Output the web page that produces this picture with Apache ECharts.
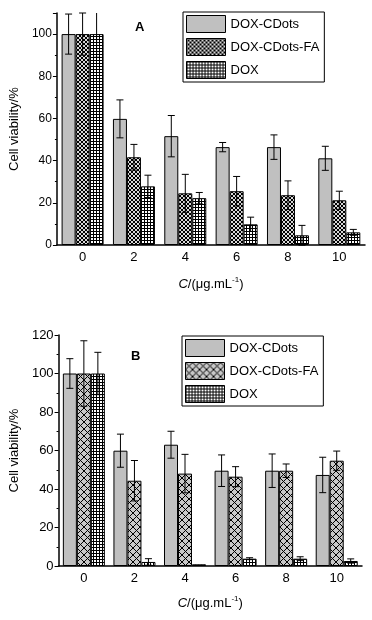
<!DOCTYPE html>
<html>
<head>
<meta charset="utf-8">
<script src="https://cdn.jsdelivr.net/npm/echarts@6/dist/echarts.min.js"></script>
<style>
  body { margin: 0; background: #fff; }
  #chartA, #chartB { width: 372px; height: 310px; }
</style>
</head>
<body>
<div id="chartA"></div>
<div id="chartB"></div>
<script>
var categories = ['0', '2', '4', '6', '8', '10'];
var seriesNames = ['DOX-CDots', 'DOX-CDots-FA', 'DOX'];

// panel A
var cdotsA = [100, 59.8, 51.6, 46.4, 46.4, 41.1];
var cdotsFaA = [100, 41.6, 24.5, 25.5, 23.6, 21.2];
var doxA = [100, 27.8, 22.2, 9.8, 4.6, 6.0];
var cdotsErrA = [9.5, 9, 9.8, 2.2, 5.8, 5.7];
var cdotsFaErrA = [10, 6.1, 9, 7, 6.8, 4.3];
var doxErrA = [11, 5.3, 2.7, 3.4, 4.7, 1.4];

// panel B
var cdotsB = [100, 59.9, 63, 49.5, 49.5, 47.3];
var cdotsFaB = [100, 44.3, 48, 46.4, 49.5, 54.7];
var doxB = [100, 2.1, 0.9, 3.8, 3.8, 2.6];
var cdotsErrB = [7.7, 8.6, 7, 8.2, 8.7, 9.2];
var cdotsFaErrB = [17, 10.5, 10, 5.2, 3.5, 5];
var doxErrB = [11, 1.7, 0, 0.5, 1, 1.1];

function pattern(size, bg, dots) {
    var c = document.createElement('canvas');
    c.width = size; c.height = size;
    var g = c.getContext('2d');
    g.fillStyle = bg;
    g.fillRect(0, 0, size, size);
    g.fillStyle = '#000';
    dots(g, size);
    return { image: c, repeat: 'repeat' };
}
// fine dark checker (panel A FA)
var denseHatch = pattern(4, '#d8d8d8', function (g, s) {
    for (var i = 0; i < s; i++) { g.fillRect(i, i, 1, 1); g.fillRect(s - 1 - i, i, 1, 1); }
});
// open diagonal cross hatch (panel B FA)
var crossHatch = pattern(7, '#c8c8c8', function (g, s) {
    for (var i = 0; i < s; i++) { g.fillRect(i, i, 1, 1); g.fillRect(s - 1 - i, i, 1, 1); }
});
// square grid (DOX)
var gridHatch = pattern(3, '#ffffff', function (g, s) {
    g.fillRect(0, 0, s, 1); g.fillRect(0, 0, 1, s);
});

function errorSeries(vals, errs, offset, ymax) {
    var data = vals.map(function (v, i) { return [i, v, errs[i]]; });
    return {
        type: 'custom',
        xAxisIndex: 0,
        z: 5,
        silent: true,
        data: data,
        renderItem: function (params, api) {
            var i = api.value(0), v = api.value(1), e = api.value(2);
            if (!e) return;
            var hi = Math.min(v + e, ymax);
            var p1 = api.coord([i, hi]);
            var p2 = api.coord([i, v - e]);
            var x = p1[0] + offset;
            var capHi = v + e <= ymax;
            var st = { stroke: '#000', lineWidth: 1 };
            var kids = [
                { type: 'line', shape: { x1: x, y1: p1[1], x2: x, y2: p2[1] }, style: st },
                { type: 'line', shape: { x1: x - 3.5, y1: p2[1], x2: x + 3.5, y2: p2[1] }, style: st }
            ];
            if (capHi) kids.push({ type: 'line', shape: { x1: x - 3.5, y1: p1[1], x2: x + 3.5, y2: p1[1] }, style: st });
            return { type: 'group', children: kids };
        }
    };
}

function barSeries(name, vals, color) {
    return {
        name: name,
        type: 'bar',
        xAxisIndex: 0,
        barWidth: 14,
        barGap: '0%',
        data: vals,
        itemStyle: { color: color, borderColor: '#000', borderWidth: 1 }
    };
}

var xName = '{i|C}/(μg.mL{s|-1})';

function buildOption(p) {
    return {
        animation: false,
        textStyle: { fontFamily: 'Liberation Sans, Arial, sans-serif', color: '#000' },
        grid: { left: p.left, top: p.top, width: 312, height: p.height },
        legend: {
            orient: 'vertical',
            left: p.legLeft,
            top: p.legTop,
            padding: [3, 5, 3, 3],
            itemWidth: 39,
            itemHeight: 17,
            itemGap: 5,
            borderColor: '#000',
            borderWidth: 1,
            textStyle: { fontSize: 13, color: '#000' },
            data: [
                { name: seriesNames[0], icon: 'rect', itemStyle: { color: '#c0c0c0', borderColor: '#000', borderWidth: 1 } },
                { name: seriesNames[1], icon: 'rect', itemStyle: { color: p.faColor, borderColor: '#000', borderWidth: 1 } },
                { name: seriesNames[2], icon: 'rect', itemStyle: { color: gridHatch, borderColor: '#000', borderWidth: 1 } }
            ]
        },
        graphic: [{
            type: 'text', left: p.labelX, top: p.labelY,
            style: { text: p.label, font: 'bold 13px Liberation Sans, Arial', fill: '#000' }
        }],
        xAxis: [{
            type: 'category',
            data: categories,
            axisLine: { lineStyle: { color: '#000', width: 1.5 } },
            axisTick: { alignWithLabel: true, length: 4, lineStyle: { color: '#000' } },
            axisLabel: { fontSize: 13, color: '#000', margin: 6 },
            name: xName,
            nameLocation: 'middle',
            nameGap: p.xNameGap,
            nameTextStyle: {
                fontSize: 13, color: '#000',
                rich: { i: { fontStyle: 'italic', fontSize: 13 }, s: { fontSize: 8, verticalAlign: 'top', padding: [0, 0, 8, 0] } }
            },
            splitLine: { show: false }
        }, {
            type: 'category',
            data: categories,
            position: 'bottom',
            axisLine: { show: false },
            axisTick: { length: 2, lineStyle: { color: '#000' } },
            axisLabel: { show: false },
            splitLine: { show: false }
        }],
        yAxis: {
            type: 'value',
            min: 0,
            max: p.ymax,
            interval: 20,
            axisLine: { show: true, lineStyle: { color: '#000', width: 1.5 } },
            axisTick: { show: true, length: 4, lineStyle: { color: '#000' } },
            minorTick: { show: true, splitNumber: 2, length: 2, lineStyle: { color: '#000' } },
            axisLabel: {
                fontSize: p.yFont, color: '#000', margin: 5,
                formatter: function (v) { return v % 20 === 0 ? String(v) : ''; }
            },
            splitLine: { show: false },
            name: 'Cell viability/%',
            nameLocation: 'middle',
            nameGap: p.yNameGap,
            nameTextStyle: { fontSize: 13, color: '#000' }
        },
        series: [
            barSeries(seriesNames[0], p.v[0], '#c0c0c0'),
            barSeries(seriesNames[1], p.v[1], p.faColor),
            barSeries(seriesNames[2], p.v[2], gridHatch),
            errorSeries(p.v[0], p.e[0], -14, p.ymax),
            errorSeries(p.v[1], p.e[1], 0, p.ymax),
            errorSeries(p.v[2], p.e[2], 14, p.ymax)
        ]
    };
}

var chartA = echarts.init(document.getElementById('chartA'));
chartA.setOption(buildOption({
    left: 53, top: 13, height: 232, ymax: 110, yFont: 12, yNameGap: 29, xNameGap: 31,
    legLeft: 183, legTop: 12, label: 'A', labelX: 135, labelY: 21,
    faColor: denseHatch,
    v: [cdotsA, cdotsFaA, doxA], e: [cdotsErrA, cdotsFaErrA, doxErrA]
}));

var chartB = echarts.init(document.getElementById('chartB'));
chartB.setOption(buildOption({
    left: 50, top: 25, height: 231, ymax: 120, yFont: 13, yNameGap: 33, xNameGap: 29,
    legLeft: 182, legTop: 26, label: 'B', labelX: 131, labelY: 40,
    faColor: crossHatch,
    v: [cdotsB, cdotsFaB, doxB], e: [cdotsErrB, cdotsFaErrB, doxErrB]
}));
</script>
</body>
</html>
